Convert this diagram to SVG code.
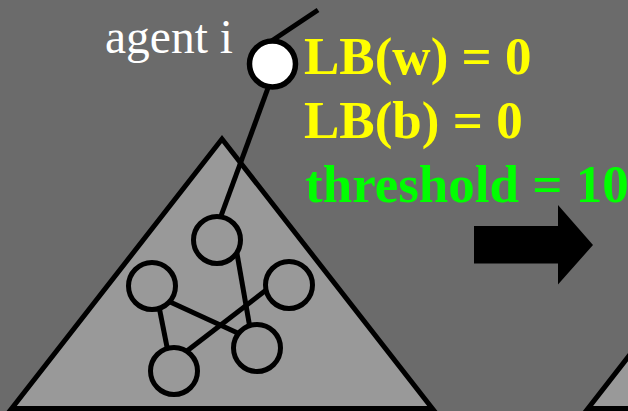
<svg xmlns="http://www.w3.org/2000/svg" width="628" height="411" viewBox="0 0 628 411">
<style>
.tri{fill:#999999;stroke:#000;stroke-width:5;stroke-linejoin:miter}
.node{fill:#999999;stroke:#000;stroke-width:5}
.edge{stroke:#000;stroke-width:5;fill:none}
.lb{font-family:"Liberation Serif","Times New Roman",serif;font-weight:bold;font-size:53px;fill:#ffff00}
</style>
<rect x="0" y="0" width="628" height="411" fill="#6b6b6b"/>
<g id="tree">
<polygon class="tri" points="222,139 11.7,408.5 432.3,408.5"/>
</g>
<g id="tree2">
<polygon class="tri" points="798,139 588,408.5 1008,408.5"/>
</g>
<g id="connectors">
<line class="edge" x1="318" y1="10" x2="270" y2="42"/>
<line class="edge" x1="268" y1="88" x2="221" y2="216"/>
<line class="edge" x1="235.5" y1="245" x2="250.5" y2="331"/>
<line class="edge" x1="168" y1="301" x2="242" y2="335"/>
<line class="edge" x1="158.5" y1="304" x2="168" y2="352"/>
<line class="edge" x1="270" y1="287" x2="183" y2="354"/>
</g>
<g id="agent">
<circle cx="272.5" cy="64" r="23" fill="#fff" stroke="#000" stroke-width="5.5"/>
<text x="105" y="52.5" font-family="Liberation Serif,'Times New Roman',serif" font-size="47.5" fill="#fff">agent i</text>
</g>
<g id="n1"><circle class="node" cx="217" cy="240" r="23.5"/></g>
<g id="n2"><circle class="node" cx="152" cy="286" r="23.5"/></g>
<g id="n3"><circle class="node" cx="289" cy="285" r="23.5"/></g>
<g id="n4"><circle class="node" cx="257" cy="348" r="23.5"/></g>
<g id="n5"><circle class="node" cx="174" cy="371" r="23.5"/></g>
<g id="labels">
<text class="lb" x="304" y="73.5">LB(w) = 0</text>
<text class="lb" x="304" y="137.5">LB(b) = 0</text>
<text class="lb" x="305" y="201.5" fill="#00ff00" style="fill:#00ff00">threshold = 10</text>
</g>
<g id="arrow">
<polygon points="474,226 558,226 558,205 593,245 558,284.5 558,263.5 474,263.5" fill="#000"/>
</g>
</svg>
